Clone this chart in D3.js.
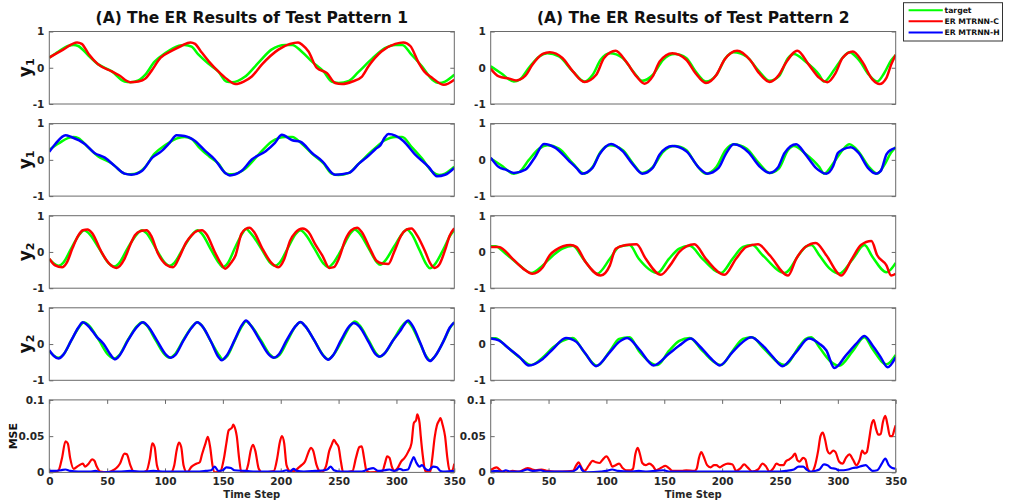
<!DOCTYPE html>
<html>
<head>
<meta charset="utf-8">
<script src="https://cdn.jsdelivr.net/npm/d3@7"></script>
<style>
  body { margin: 0; background: #fff; }
  svg { display: block; }
  text { font-family: "DejaVu Sans", sans-serif; font-weight: bold; }
</style>
</head>
<body>
<svg id="chart" width="1016" height="503"></svg>
<script>
// ---- axis ticks ----
const timeTicks = [0, 50, 100, 150, 200, 250, 300, 350];
const signalTicks = [-1, 0, 1];
const mseTicks = [0, 0.05, 0.1];

// ---- Test Pattern 1: [time step, value] ----
const targetY1P1 = [[0,0.28],[8,0.45],[16,0.6],[21,0.63],[25,0.6],[34,0.33],[42,0.1],[54,-0.1],[65,-0.38],[70,-0.4],[77,-0.35],[83,-0.19],[91,0.17],[100,0.4],[112,0.61],[117,0.63],[123,0.58],[129,0.36],[138,0.1],[146,-0.1],[153,-0.38],[158,-0.4],[169,-0.25],[181,0.15],[192,0.5],[204,0.63],[210,0.63],[218,0.45],[227,0.17],[237,-0.1],[244,-0.38],[250,-0.42],[259,-0.36],[267,-0.12],[279,0.25],[290,0.54],[299,0.63],[305,0.63],[313,0.36],[322,0.04],[331,-0.33],[337,-0.42],[342,-0.38],[350,-0.19]];
const mtrnnCY1P1 = [[0,0.28],[12,0.5],[24,0.7],[28,0.66],[34,0.38],[42,0.1],[54,-0.1],[60,-0.2],[70,-0.4],[77,-0.38],[83,-0.3],[88,-0.1],[96,0.27],[106,0.47],[114,0.6],[122,0.7],[126,0.66],[131,0.45],[138,0.17],[146,-0.1],[153,-0.3],[161,-0.45],[168,-0.38],[175,-0.24],[184,0.1],[198,0.5],[208,0.66],[215,0.7],[219,0.62],[224,0.45],[231,0.0],[240,-0.15],[247,-0.42],[253,-0.45],[262,-0.38],[270,-0.25],[276,0.05],[287,0.45],[299,0.66],[306,0.7],[312,0.6],[319,0.15],[324,-0.1],[331,-0.28],[341,-0.47],[350,-0.33]];
const mtrnnHY1P1 = [[0,0.22],[5,0.43],[14,0.68],[19,0.63],[31,0.43],[39,0.19],[48,0.06],[57,-0.18],[65,-0.38],[71,-0.41],[80,-0.31],[89,0.06],[97,0.24],[104,0.47],[110,0.68],[117,0.66],[126,0.52],[135,0.24],[143,0.01],[152,-0.36],[156,-0.43],[166,-0.31],[175,0.01],[187,0.24],[195,0.47],[201,0.69],[210,0.54],[217,0.5],[227,0.19],[236,-0.04],[247,-0.41],[259,-0.36],[268,-0.09],[276,0.12],[282,0.3],[286,0.4],[290,0.62],[293,0.71],[299,0.67],[306,0.52],[316,0.15],[328,-0.2],[335,-0.45],[342,-0.41],[350,-0.22]];
const targetY2P1 = [[0,-0.2],[4,-0.32],[8,-0.38],[12,-0.3],[19,0.1],[26,0.48],[30,0.6],[34,0.52],[43,0.1],[51,-0.3],[56,-0.4],[60,-0.32],[68,0.12],[76,0.5],[80,0.6],[84,0.52],[92,0.1],[100,-0.3],[104,-0.38],[108,-0.3],[116,0.12],[124,0.5],[128,0.6],[132,0.5],[140,0.05],[147,-0.32],[150,-0.42],[154,-0.32],[161,0.15],[167,0.52],[170,0.63],[174,0.52],[183,0.1],[191,-0.3],[195,-0.38],[199,-0.3],[206,0.1],[213,0.5],[217,0.6],[221,0.5],[229,0.1],[237,-0.32],[241,-0.42],[245,-0.32],[253,0.1],[260,0.5],[264,0.62],[268,0.52],[276,0.1],[283,-0.28],[286,-0.35],[290,-0.25],[298,0.15],[305,0.5],[309,0.62],[313,0.5],[320,0.05],[326,-0.35],[329,-0.45],[333,-0.35],[341,0.1],[347,0.48],[350,0.6]];
const mtrnnCY2P1 = [[0,-0.19],[5,-0.37],[11,-0.42],[15,-0.3],[20,0.1],[25,0.45],[29,0.6],[33,0.62],[37,0.52],[45,0.0],[52,-0.33],[58,-0.44],[65,-0.19],[70,0.2],[74,0.46],[79,0.58],[84,0.6],[88,0.45],[94,-0.05],[101,-0.35],[107,-0.42],[113,-0.1],[118,0.25],[123,0.46],[128,0.58],[132,0.6],[136,0.48],[143,0.0],[148,-0.3],[152,-0.46],[157,-0.3],[161,-0.09],[166,0.5],[170,0.64],[173,0.67],[177,0.55],[184,0.1],[192,-0.3],[198,-0.42],[203,-0.2],[208,0.3],[213,0.55],[219,0.65],[224,0.55],[230,0.2],[236,-0.1],[242,-0.44],[246,-0.42],[250,-0.2],[256,0.35],[261,0.6],[266,0.67],[270,0.55],[277,0.1],[283,-0.25],[288,-0.32],[293,-0.33],[298,0.0],[304,0.45],[309,0.62],[313,0.65],[318,0.45],[325,0.0],[329,-0.3],[333,-0.44],[337,-0.35],[342,0.05],[346,0.45],[350,0.65]];
const mtrnnHY2P1 = [[0,-0.17],[4,-0.33],[8,-0.4],[12,-0.3],[19,0.1],[25,0.45],[29,0.6],[33,0.52],[41,0.2],[47,0.0],[53,-0.3],[57,-0.42],[61,-0.3],[68,0.1],[76,0.48],[81,0.6],[85,0.5],[93,0.1],[101,-0.3],[105,-0.38],[109,-0.3],[116,0.1],[123,0.45],[128,0.6],[132,0.5],[140,0.05],[146,-0.35],[149,-0.45],[153,-0.33],[160,0.1],[166,0.5],[170,0.65],[174,0.52],[182,0.1],[190,-0.3],[194,-0.38],[198,-0.3],[205,0.1],[213,0.5],[217,0.61],[221,0.5],[229,0.1],[237,-0.33],[241,-0.43],[245,-0.32],[252,0.1],[259,0.48],[263,0.58],[268,0.48],[276,0.05],[282,-0.28],[285,-0.35],[289,-0.28],[297,0.1],[303,0.35],[307,0.55],[310,0.65],[314,0.5],[321,0.0],[326,-0.38],[329,-0.47],[333,-0.35],[341,0.1],[346,0.45],[350,0.6]];
const mseCP1 = [[0,0],[5,0.001],[8,0.003],[11,0.02],[14,0.043],[16,0.04],[18,0.02],[21,0.005],[25,0.009],[29,0.012],[31,0.008],[34,0.012],[37,0.018],[39,0.016],[41,0.008],[44,0.001],[50,0],[54,0.002],[58,0.006],[61,0.012],[65,0.026],[67,0.025],[70,0.01],[73,0.001],[80,0],[84,0.002],[87,0.02],[89,0.04],[91,0.035],[93,0.01],[96,0],[105,0],[108,0.01],[110,0.03],[112,0.041],[114,0.035],[116,0.01],[119,0],[123,0.008],[127,0.012],[130,0.014],[132,0.025],[135,0.04],[137,0.049],[139,0.035],[141,0.01],[143,0],[148,0.002],[151,0.02],[153,0.04],[155,0.058],[158,0.062],[159,0.066],[161,0.058],[162,0.05],[164,0.02],[166,0],[170,0.002],[172,0.012],[174,0.03],[176,0.038],[178,0.03],[181,0.005],[184,0],[194,0.002],[197,0.02],[199,0.04],[201,0.05],[203,0.04],[205,0.01],[208,0.002],[212,0.002],[215,0.006],[218,0.01],[221,0.015],[224,0.028],[226,0.034],[228,0.03],[231,0.01],[235,0],[239,0.008],[242,0.03],[244,0.038],[246,0.045],[248,0.04],[250,0.035],[252,0.015],[254,0],[262,0.002],[265,0.02],[268,0.035],[270,0.036],[272,0.02],[274,0.003],[277,0],[288,0.002],[290,0.012],[292,0.022],[294,0.02],[296,0.008],[298,0.002],[301,0.006],[304,0.015],[307,0.02],[310,0.028],[313,0.04],[315,0.068],[317,0.072],[318,0.08],[320,0.068],[321,0.05],[323,0.02],[325,0.002],[329,0],[331,0.02],[333,0.048],[335,0.065],[337,0.072],[338,0.075],[340,0.065],[342,0.05],[344,0.02],[346,0.002],[348,0.002],[350,0.012]];
const mseHP1 = [[0,0.002],[5,0.002],[10,0.003],[14,0.004],[18,0.002],[25,0.001],[35,0.001],[40,0.002],[45,0.0],[55,0.001],[60,0.001],[70,0.002],[80,0.001],[90,0.002],[100,0.001],[110,0.001],[120,0.001],[127,0.001],[135,0.002],[140,0.003],[143,0.008],[146,0.002],[150,0.003],[153,0.007],[157,0.006],[160,0.003],[170,0.002],[180,0.001],[190,0.001],[200,0.001],[205,0.003],[208,0.001],[211,0.005],[214,0.002],[220,0.001],[230,0.002],[238,0.003],[241,0.005],[243,0.008],[246,0.003],[252,0.001],[260,0.001],[270,0.001],[275,0.004],[280,0.006],[284,0.002],[290,0.003],[294,0.004],[298,0.002],[303,0.005],[306,0.003],[310,0.004],[313,0.015],[315,0.021],[317,0.014],[320,0.008],[322,0.01],[325,0.005],[328,0.003],[330,0.006],[332,0.008],[335,0.007],[338,0.002],[342,0.001],[350,0.002]];

// ---- Test Pattern 2: [time step, value] ----
const targetY1P2 = [[0,0.04],[9,-0.15],[20,-0.38],[25,-0.33],[33,0.0],[42,0.31],[49,0.4],[59,0.31],[71,-0.1],[81,-0.38],[88,-0.2],[95,0.22],[103,0.4],[114,0.27],[123,-0.1],[131,-0.36],[140,-0.2],[149,0.22],[159,0.38],[169,0.27],[177,-0.1],[186,-0.38],[195,-0.2],[203,0.27],[210,0.43],[221,0.31],[232,-0.1],[241,-0.36],[249,-0.24],[257,0.27],[262,0.38],[272,0.17],[284,-0.2],[288,-0.38],[297,-0.05],[304,0.27],[310,0.43],[318,0.22],[327,-0.2],[334,-0.38],[340,-0.15],[346,0.2],[350,0.35]];
const mtrnnCY1P2 = [[0,-0.03],[7,-0.24],[16,-0.3],[22,-0.35],[30,-0.22],[36,0.08],[45,0.38],[51,0.43],[62,0.27],[71,-0.1],[81,-0.39],[91,-0.2],[98,0.27],[108,0.47],[117,0.17],[126,-0.24],[133,-0.44],[140,-0.24],[146,0.17],[157,0.4],[169,0.22],[177,-0.15],[186,-0.42],[195,-0.2],[202,0.22],[213,0.47],[224,0.22],[232,-0.15],[241,-0.39],[249,-0.2],[255,0.13],[265,0.47],[275,0.08],[284,-0.28],[291,-0.4],[298,-0.15],[304,0.27],[313,0.45],[321,0.17],[330,-0.33],[336,-0.45],[342,-0.28],[346,0.08],[350,0.36]];
const mtrnnHY1P2 = [[0,0.06],[7,-0.2],[13,-0.27],[20,-0.36],[30,-0.27],[38,0.06],[46,0.44],[56,0.33],[68,-0.04],[74,-0.22],[79,-0.38],[88,-0.22],[94,0.15],[104,0.44],[114,0.24],[123,-0.13],[131,-0.38],[140,-0.22],[146,0.15],[157,0.38],[169,0.24],[180,-0.22],[187,-0.38],[197,-0.22],[203,0.15],[210,0.43],[223,0.2],[232,-0.17],[241,-0.36],[248,-0.22],[254,0.19],[264,0.43],[272,0.15],[281,-0.22],[290,-0.38],[296,-0.17],[300,0.19],[304,0.28],[311,0.35],[318,0.19],[326,-0.22],[333,-0.38],[337,-0.31],[342,0.15],[346,0.28],[350,0.33]];
const targetY2P2 = [[0,0.16],[4,0.16],[13,-0.05],[25,-0.37],[35,-0.58],[45,-0.37],[54,-0.09],[62,0.09],[71,0.17],[80,-0.19],[92,-0.6],[103,-0.19],[111,0.14],[120,0.19],[128,-0.19],[144,-0.58],[154,-0.19],[163,0.09],[172,0.17],[183,-0.19],[199,-0.58],[209,-0.19],[218,0.14],[226,0.19],[235,-0.09],[254,-0.58],[267,-0.05],[272,0.14],[277,0.19],[284,-0.09],[293,-0.46],[301,-0.6],[313,-0.19],[323,0.19],[330,-0.14],[342,-0.56],[350,-0.3]];
const mtrnnCY2P2 = [[0,0.14],[7,0.14],[19,-0.19],[28,-0.46],[36,-0.6],[45,-0.42],[51,-0.09],[56,0.05],[69,0.19],[74,0.14],[82,-0.28],[95,-0.65],[103,-0.37],[108,0.09],[117,0.19],[126,0.21],[134,-0.19],[147,-0.63],[155,-0.37],[163,0.0],[176,0.21],[186,-0.19],[202,-0.63],[212,-0.19],[221,0.14],[231,0.21],[241,-0.09],[257,-0.65],[264,-0.19],[272,0.14],[281,0.25],[290,-0.09],[303,-0.65],[312,-0.2],[320,0.19],[329,0.3],[334,-0.09],[342,-0.37],[346,-0.65],[350,-0.6]];
const mtrnnHY2P2 = [[0,0.15],[7,0.1],[16,-0.13],[25,-0.36],[33,-0.59],[45,-0.41],[54,-0.13],[65,0.17],[74,0.06],[82,-0.27],[91,-0.61],[103,-0.22],[111,0.06],[118,0.17],[128,-0.13],[141,-0.59],[154,-0.27],[163,-0.04],[173,0.15],[180,-0.04],[192,-0.45],[198,-0.59],[209,-0.22],[218,0.06],[225,0.19],[235,-0.04],[244,-0.36],[252,-0.61],[264,-0.22],[275,0.15],[284,0.01],[290,-0.17],[297,-0.66],[307,-0.31],[316,0.01],[323,0.22],[330,-0.04],[337,-0.36],[343,-0.64],[350,-0.36]];
const mseCP2 = [[0,0.003],[5,0.007],[9,0.002],[13,0.0],[19,0.002],[24,0.001],[32,0.006],[36,0.004],[39,0.003],[44,0.004],[49,0.002],[55,0.001],[62,0.001],[71,0.002],[74,0.01],[76,0.014],[78,0.008],[81,0.002],[85,0.01],[88,0.016],[91,0.014],[94,0.013],[97,0.018],[100,0.022],[103,0.015],[105,0.008],[108,0.01],[111,0.012],[114,0.006],[117,0.003],[121,0.003],[123,0.005],[125,0.025],[127,0.034],[129,0.025],[131,0.013],[134,0.01],[137,0.012],[140,0.009],[143,0.003],[147,0.006],[151,0.009],[154,0.006],[157,0.002],[165,0.002],[169,0.003],[176,0.002],[178,0.005],[180,0.02],[182,0.028],[184,0.022],[187,0.01],[190,0.007],[193,0.01],[195,0.01],[198,0.007],[201,0.01],[205,0.012],[209,0.011],[212,0.002],[216,0.006],[219,0.011],[222,0.007],[226,0.001],[231,0.004],[235,0.012],[238,0.008],[241,0.001],[244,0.005],[247,0.012],[250,0.01],[253,0.01],[255,0.015],[258,0.018],[261,0.022],[263,0.026],[265,0.017],[267,0.015],[270,0.02],[272,0.018],[274,0.005],[277,0.0],[280,0.008],[283,0.03],[285,0.05],[287,0.055],[289,0.045],[291,0.03],[293,0.026],[296,0.03],[298,0.028],[301,0.015],[304,0.012],[307,0.02],[310,0.025],[313,0.018],[316,0.01],[319,0.018],[321,0.03],[323,0.026],[325,0.028],[327,0.045],[329,0.065],[331,0.072],[333,0.06],[335,0.052],[337,0.053],[339,0.07],[341,0.078],[343,0.065],[345,0.05],[347,0.05],[349,0.06],[350,0.065]];
const mseHP2 = [[0,0.001],[5,0.002],[10,0.001],[13,0.003],[17,0.001],[25,0.001],[32,0.004],[36,0.002],[43,0.003],[48,0.001],[60,0.001],[70,0.001],[74,0.004],[77,0.009],[79,0.003],[83,0.0],[95,0.001],[100,0.002],[105,0.004],[110,0.002],[120,0.001],[128,0.002],[135,0.001],[149,0.003],[155,0.001],[170,0.001],[200,0.001],[230,0.001],[250,0.001],[255,0.002],[262,0.004],[266,0.008],[270,0.008],[273,0.004],[276,0.001],[280,0.002],[284,0.004],[288,0.011],[291,0.01],[294,0.006],[298,0.005],[301,0.003],[305,0.003],[309,0.004],[313,0.006],[317,0.007],[321,0.009],[324,0.01],[327,0.006],[330,0.002],[334,0.003],[338,0.012],[341,0.019],[344,0.01],[347,0.006],[350,0.005]];

// ---- series names & colours ----
const legendNames = ["target", "ER MTRNN-C", "ER MTRNN-H"];
const colors = { target: "#00ff00", C: "#ff0000", H: "#0000ff" };

// ---- layout ----
const colLeft = [49.3, 490.7];
const plotW = 405;
const rowTop = [31.5, 123.6, 215.7, 307.8, 399.9];
const plotH = 72.5;
const axisColor = "#6a6a6a";
const textColor = "#262626";

const columns = [
  {
    title: "(A) The ER Results of Test Pattern 1",
    rows: [
      { sub: "1", series: [[targetY1P1, colors.target], [mtrnnCY1P1, colors.C]] },
      { sub: "1", series: [[targetY1P1, colors.target], [mtrnnHY1P1, colors.H]] },
      { sub: "2", series: [[targetY2P1, colors.target], [mtrnnCY2P1, colors.C]] },
      { sub: "2", series: [[targetY2P1, colors.target], [mtrnnHY2P1, colors.H]] },
      { mse: true, series: [[mseCP1, colors.C], [mseHP1, colors.H]] }
    ]
  },
  {
    title: "(A) The ER Results of Test Pattern 2",
    rows: [
      { sub: "1", series: [[targetY1P2, colors.target], [mtrnnCY1P2, colors.C]] },
      { sub: "1", series: [[targetY1P2, colors.target], [mtrnnHY1P2, colors.H]] },
      { sub: "2", series: [[targetY2P2, colors.target], [mtrnnCY2P2, colors.C]] },
      { sub: "2", series: [[targetY2P2, colors.target], [mtrnnHY2P2, colors.H]] },
      { mse: true, series: [[mseCP2, colors.C], [mseHP2, colors.H]] }
    ]
  }
];

const svg = d3.select("#chart");
const defs = svg.append("defs");

function styleAxis(g) {
  g.select(".domain").remove();
  g.selectAll(".tick line").attr("stroke", axisColor);
  g.selectAll(".tick text").attr("fill", textColor)
    .style("font-family", '"DejaVu Sans", sans-serif')
    .style("font-weight", "bold").style("font-size", "10.5px");
}

columns.forEach((col, ci) => {
  const left = colLeft[ci];
  const x = d3.scaleLinear().domain([0, 350]).range([left, left + plotW]);

  svg.append("text")
    .attr("x", left + plotW / 2).attr("y", 23)
    .attr("text-anchor", "middle")
    .style("font-size", "15.5px").attr("fill", "#111")
    .text(col.title);

  col.rows.forEach((row, ri) => {
    const top = rowTop[ri];
    const domain = row.mse ? [0, 0.1] : [-1, 1];
    const ticks = row.mse ? mseTicks : signalTicks;
    const y = d3.scaleLinear().domain(domain).range([top + plotH, top]);
    const g = svg.append("g");

    const clipId = `clip-${ci}-${ri}`;
    defs.append("clipPath").attr("id", clipId)
      .append("rect").attr("x", left).attr("y", top).attr("width", plotW).attr("height", plotH);

    // inward ticks on the left (with labels) and on the right
    g.append("g").attr("transform", `translate(${left},0)`)
      .call(d3.axisLeft(y).tickValues(ticks).tickFormat(d => String(d))
        .tickSizeInner(-4).tickSizeOuter(0).tickPadding(5))
      .call(styleAxis);
    g.append("g").attr("transform", `translate(${left + plotW},0)`)
      .call(d3.axisRight(y).tickValues(ticks).tickFormat("")
        .tickSizeInner(-4).tickSizeOuter(0))
      .call(styleAxis);

    if (row.mse) {
      g.append("g").attr("transform", `translate(0,${top + plotH})`)
        .call(d3.axisBottom(x).tickValues(timeTicks).tickFormat(d => String(d))
          .tickSizeInner(-4).tickSizeOuter(0).tickPadding(5))
        .call(styleAxis);
      g.append("g").attr("transform", `translate(0,${top})`)
        .call(d3.axisTop(x).tickValues(timeTicks).tickFormat("")
          .tickSizeInner(-4).tickSizeOuter(0))
        .call(styleAxis);
      svg.append("text")
        .attr("x", left + plotW / 2).attr("y", 497.5)
        .attr("text-anchor", "middle").style("font-size", "10px")
        .attr("fill", textColor).text("Time Step");
    }

    const line = d3.line()
      .x(d => x(d[0])).y(d => y(d[1]))
      .curve(d3.curveMonotoneX);

    const lines = g.append("g").attr("clip-path", `url(#${clipId})`);
    row.series.forEach(([data, color]) => {
      lines.append("path").datum(data)
        .attr("d", line)
        .attr("fill", "none")
        .attr("stroke", color)
        .attr("stroke-width", row.mse ? 2.2 : 2.5)
        .attr("stroke-linejoin", "round");
    });

    g.append("rect")
      .attr("x", left).attr("y", top).attr("width", plotW).attr("height", plotH)
      .attr("fill", "none").attr("stroke", axisColor).attr("stroke-width", 1);

    // y-axis labels only on the first column
    if (ci === 0) {
      const cy = top + plotH / 2;
      if (row.mse) {
        svg.append("text")
          .attr("transform", `translate(16.5,${cy}) rotate(-90)`)
          .attr("text-anchor", "middle").style("font-size", "11px")
          .attr("fill", "#111").text("MSE");
      } else {
        const t = svg.append("text")
          .attr("transform", `translate(30.5,${cy}) rotate(-90)`)
          .attr("text-anchor", "middle").style("font-size", "17px")
          .attr("fill", "#111");
        t.append("tspan").text("y");
        t.append("tspan").attr("dy", 3.5).style("font-size", "11px").text(row.sub);
      }
    }
  });
});

// ---- legend ----
const legend = svg.append("g");
legend.append("rect")
  .attr("x", 903.5).attr("y", 2.7).attr("width", 99).attr("height", 38.3)
  .attr("fill", "#fff").attr("stroke", "#333").attr("stroke-width", 1);
const legendColors = [colors.target, colors.C, colors.H];
const legendY = d3.scalePoint().domain(legendNames).range([10.2, 32.4]);
legendNames.forEach((name, i) => {
  const yy = legendY(name);
  legend.append("line")
    .attr("x1", 908.6).attr("x2", 942.8).attr("y1", yy).attr("y2", yy)
    .attr("stroke", legendColors[i]).attr("stroke-width", 2);
  legend.append("text")
    .attr("x", 944.5).attr("y", yy + 2.8)
    .style("font-size", "7.7px").attr("fill", "#111").text(name);
});
</script>
</body>
</html>
